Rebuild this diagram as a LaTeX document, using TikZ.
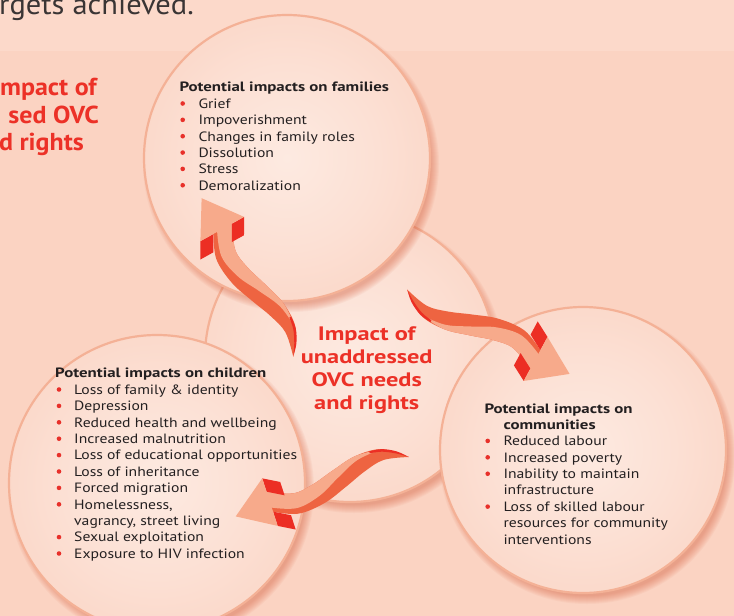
\documentclass[tikz,border=0pt]{standalone}
\usepackage{fontspec}
\setmainfont{PT Sans}[FakeStretch=1.16, BoldFeatures={FakeStretch=1.25}]
\newfontfamily\topfont{PT Sans}[FakeStretch=1.05]
\newfontfamily\sidefont{PT Sans}[FakeStretch=1.06]
\definecolor{bgtop}{HTML}{FCD9CA}
\definecolor{bgmain}{HTML}{FBD3C2}
\definecolor{ink}{HTML}{231F20}
\definecolor{topink}{HTML}{3A3535}
\definecolor{bul}{HTML}{E8302A}
\definecolor{hred}{HTML}{EC3127}
\definecolor{arrlight}{HTML}{F7AA8B}
\definecolor{arrdark}{HTML}{EE6441}
\definecolor{arrred}{HTML}{EC2E24}
\definecolor{ring}{HTML}{F4B196}
\definecolor{shadowc}{HTML}{D8603F}
\definecolor{cA}{HTML}{FDEAE1}
\definecolor{cB}{HTML}{FCE0D4}
\definecolor{cC}{HTML}{FAD1C0}
\definecolor{cD}{HTML}{F7C2AC}
\pgfdeclareradialshading{ballsh}{\pgfpoint{0bp}{0bp}}{color(0bp)=(cA); color(16bp)=(cB); color(36bp)=(cC); color(48bp)=(cD); color(50bp)=(cD)}
\newcommand{\circshadow}[3]{%
  \foreach \k in {1,...,9}{\fill[shadowc,opacity=0.06] ({#1+4},{#2-6}) circle ({#3-4+\k});}}
\newcommand{\ovcarrow}[3]{%
  \begin{scope}[shift={(#1,#2)}, rotate=#3, yscale=-1]
    % whole shaft (dark face)
    \fill[arrdark] (10,14) -- plot[smooth,tension=0.6] coordinates {(8,14) (-16.85,4.19) (-37.56,6.41) (-61.25,13.61) (-87.34,20.43) (-114.59,18.88) (-138,3)}
      -- plot[smooth,tension=0.6] coordinates {(-138,3) (-113.11,7.98) (-91.62,2.95) (-68.75,-6.01) (-43.48,-14.77) (-15.45,-16.77) (8,-7)} -- (10,-7) -- cycle;
    % light face
    \fill[arrlight] (10,14) -- plot[smooth,tension=0.6] coordinates {(8,14) (-16.85,4.19) (-37.56,6.41) (-61.25,13.61) (-87.34,20.43) (-114.59,18.88)}
      -- plot[smooth,tension=0.6] coordinates {(-114.59,18.88) (-88.41,16.06) (-64.44,5.27) (-41.11,-6.30) (-15.83,-11.01) (8,-2.8)} -- (10,-2.8) -- cycle;
    % red sliver at the tail
    \fill[arrred] plot[smooth,tension=0.6] coordinates {(-102,20.6) (-114.59,18.88) (-128,12.2) (-138,3)}
      -- plot[smooth,tension=0.6] coordinates {(-138,3) (-127,10.3) (-114,16.4) (-102,18.6)} -- cycle;
    % red barbs
    \fill[arrred] (8,14) -- (8,28) -- (-8,19) -- (-8,5) -- cycle;
    \fill[arrred] (8,-7) -- (8,-22) -- (-8,-31) -- (-8,-16) -- cycle;
    % head
    \fill[arrlight] (45,0) -- (8,28) -- (8,-22) -- cycle;
  \end{scope}}
\begin{document}
\begin{tikzpicture}[x=1pt,y=1pt,
  ball/.style={circle, inner sep=0pt, outer sep=0pt, shade, shading=ballsh, draw=ring, line width=2.2pt},
  lbl/.style={anchor=base west, inner sep=0pt, text=ink, font=\fontsize{13.5}{16}\selectfont},
  ttl/.style={anchor=base west, inner sep=0pt, text=ink, font=\bfseries\fontsize{13.5}{16}\selectfont},
  dot/.style={circle, fill=bul, inner sep=0pt, minimum size=4.6pt},
  big/.style={anchor=base, inner sep=0pt, text=hred, font=\bfseries\fontsize{19.5}{23}\selectfont},
  side/.style={anchor=base east, inner sep=0pt, text=hred, font=\sidefont\bfseries\fontsize{24.5}{27}\selectfont}]
\useasboundingbox (0,0) rectangle (734,-616);
\clip (0,0) rectangle (734,-616);
\fill[bgmain] (0,0) rectangle (734,-616);
\fill[bgtop] (0,0) rectangle (734,-51);
\node[anchor=base west, inner sep=0pt, text=topink, font=\topfont\fontsize{29}{32}\selectfont] (toptext) at (-1,-14) {rgets achieved.};

% left partial heading
\node[side] (s1) at (97,-95) {mpact of};
\node[side] (s2) at (99,-123) {sed OVC};
\node[side] (s3) at (84,-150) {d rights};

% circles
\circshadow{350}{-357}{145}
\node[ball, minimum size=290pt] (cen) at (350,-357) {};
\circshadow{287}{-158}{143}
\node[ball, minimum size=286pt] (fam) at (287,-158) {};
\circshadow{157}{-483}{148}
\node[ball, minimum size=296pt] (chi) at (157,-483) {};
\circshadow{583}{-450}{143}
\node[ball, minimum size=286pt] (com) at (583,-450) {};

% arrows
\ovcarrow{223.5}{-237.5}{119.1}
\ovcarrow{530}{-352.5}{-28.4}
\ovcarrow{278.5}{-502.5}{198}

% centre text
\node[big] (c1) at (366.7,-340) {Impact of};
\node[big] (c2) at (366.7,-363.3) {unaddressed};
\node[big] (c3) at (366.7,-386.3) {OVC needs};
\node[big] (c4) at (366.7,-409.3) {and rights};

% families
\node[ttl] (famt) at (179.3,-91.7) {Potential impacts on families};
\foreach \t [count=\i from 0] in {Grief, Impoverishment, Changes in family roles, Dissolution, Stress, Demoralization}{
  \node[lbl] (fam\i) at (198.3,{-108.3-16.35*\i}) {\t};
  \node[dot] (famb\i) at (182.7,{-103.5-16.35*\i}) {};
}

% children
\node[ttl] (chit) at (55,-377.3) {Potential impacts on children};
\foreach \t/\b [count=\i from 0] in {{Loss of family \& identity}/1, {Depression}/1, {Reduced health and wellbeing}/1, {Increased malnutrition}/1, {Loss of educational opportunities}/1, {Loss of inheritance}/1, {Forced migration}/1, {Homelessness,}/1, {vagrancy, street living}/0, {Sexual exploitation}/1, {Exposure to HIV infection}/1}{
  \node[lbl] (chi\i) at (74,{-394.3-16.4*\i}) {\t};
  \ifnum\b=1 \node[dot] (chib\i) at (59,{-389.5-16.4*\i}) {}; \fi
}

% communities
\node[ttl] (comt) at (484.3,-413.3) {Potential impacts on};
\node[ttl] (comt2) at (503.3,-429.5) {communities};
\foreach \t/\b [count=\i from 0] in {{Reduced labour}/1, {Increased poverty}/1, {Inability to maintain}/1, {infrastructure}/0, {Loss of skilled labour}/1, {resources for community}/0, {interventions}/0}{
  \node[lbl] (com\i) at (503.3,{-445.7-16.43*\i}) {\t};
  \ifnum\b=1 \node[dot] (comb\i) at (487.7,{-440.9-16.43*\i}) {}; \fi
}
\end{tikzpicture}
\end{document}
